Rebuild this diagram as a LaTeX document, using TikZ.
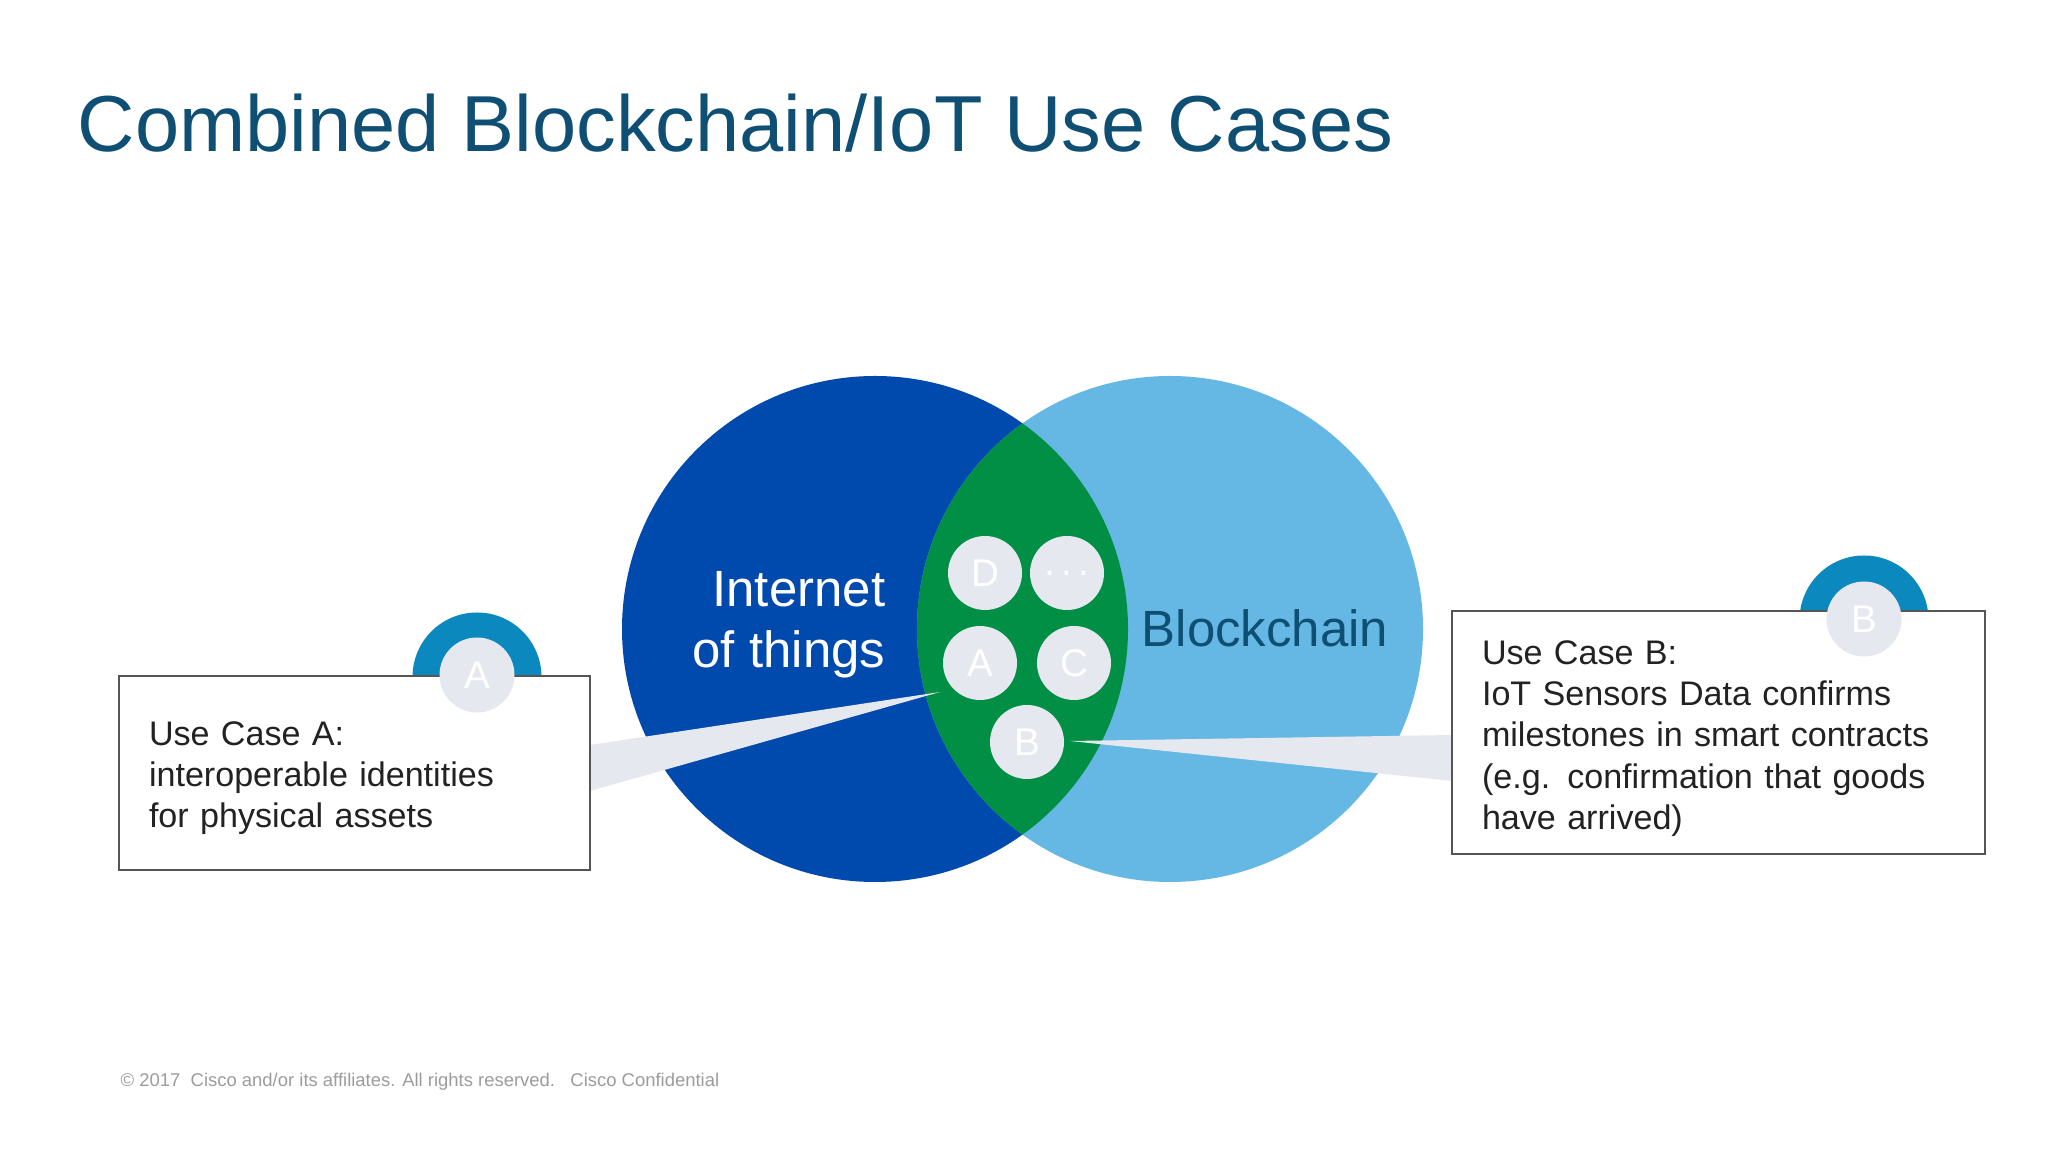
\documentclass[tikz,border=0pt]{standalone}
\usepackage{fontspec}
\setmainfont{Liberation Sans}
\usetikzlibrary{positioning}
\definecolor{titleblue}{HTML}{0E4F73}
\definecolor{iotblue}{HTML}{0049AD}
\definecolor{chainblue}{HTML}{65B8E4}
\definecolor{lens}{HTML}{008F45}
\definecolor{bubble}{HTML}{E5E8EF}
\definecolor{ring}{HTML}{0B89BE}
\definecolor{frame}{HTML}{555555}
\definecolor{body}{HTML}{222222}
\definecolor{foot}{HTML}{9C9C9C}
\tikzset{dot/.style={circle,fill=bubble,text=white,minimum size=7.4mm,inner sep=0pt,font=\fontsize{11}{13}\selectfont},
casebox/.style={draw=frame,line width=0.15mm,fill=white,align=left,inner xsep=3mm,inner ysep=0pt,text=body,font=\fontsize{9.7}{11.7}\selectfont},
badge/.style={circle,fill=bubble,text=white,minimum size=7.5mm,inner sep=0pt,font=\fontsize{11}{13}\selectfont},
wedge/.style={fill=bubble,draw=none},
setlabel/.style={inner sep=0pt,font=\fontsize{14.5}{17.4}\selectfont}}

\begin{document}
\begin{tikzpicture}[x=0.1mm,y=-0.1mm]
\useasboundingbox[fill=white](0,0) rectangle (2048,1152);
\node[anchor=base west,inner sep=0pt,text=titleblue,font=\fontsize{22.6}{27}\selectfont](title) at (77,152){Combined Blockchain/IoT Use Cases};
% the two sets and their overlap
\fill[iotblue](875,629) circle (253);
\fill[chainblue](1170,629) circle (253);
\begin{scope}\clip(875,629) circle (253);\fill[lens](1170,629) circle (253);\end{scope}
\node[setlabel,text=white,align=right,anchor=east](iot) at (886,625){Internet\\of things};
\node[setlabel,text=titleblue,anchor=west](chain) at (1141,628){Blockchain};
% pointers to the use cases
\coordinate(tipA) at (940,692);\coordinate(tipB) at (1070,741);
\fill[wedge](tipA)--(590,745)--(590,791)--cycle;
\fill[wedge](tipB)--(1452,735)--(1452,781)--cycle;
\node[dot](cD) at (985,573){D};\node[dot](cX) at (1067,573){.\,.\,.};
\node[dot](cA) at (980,663){A};\node[dot](cC) at (1074,663){C};
\node[dot](cB) at (1027,742){B};
% use case boxes with badges
\fill[ring](477,677) circle (64.5);\fill[ring](1864,620) circle (64.5);
\node[casebox,text width=41.1mm,minimum height=19.4mm](caseA) at (354.5,773){\rule{0pt}{3.4mm}Use Case A:\\interoperable identities\\for physical assets};
\node[casebox,text width=47.3mm,minimum height=24.3mm](caseB) at (1718.5,732.5){\rule{0pt}{3.6mm}Use Case B:\\IoT Sensors Data confirms\\milestones in smart contracts\\(e.g. confirmation that goods\\have arrived)};
\node[badge](bA) at (477,675){A};\node[badge](bB) at (1864,619){B};
\node[anchor=base west,inner sep=0pt,text=foot,font=\fontsize{5.25}{6.5}\selectfont](footer) at (120,1086){\textcopyright{} 2017\ \ Cisco and/or its affiliates. All rights reserved.\ \ \ Cisco Confidential};
\end{tikzpicture}
\end{document}
